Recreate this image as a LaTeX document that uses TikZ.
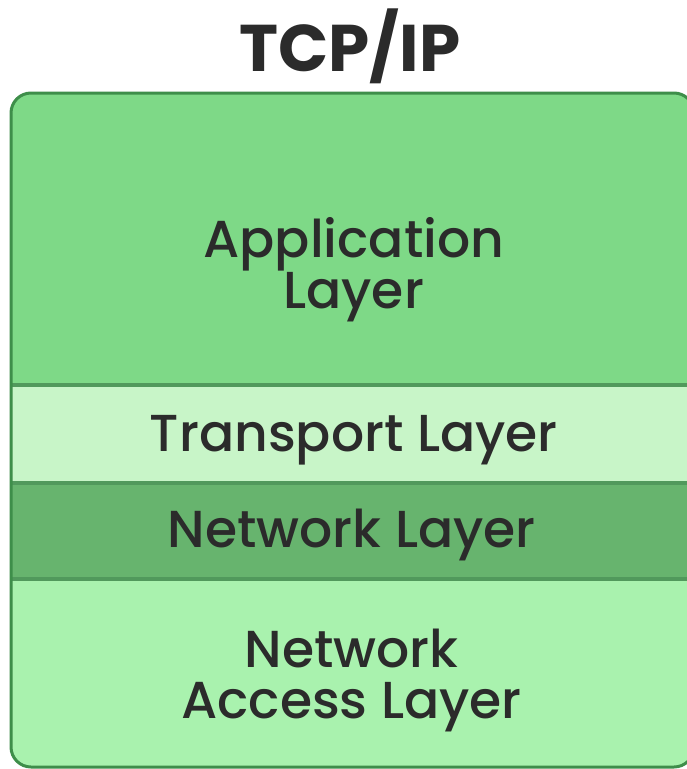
\documentclass[tikz,border=0pt]{standalone}
\usepackage{fontspec}
\setmainfont{Poppins}
\newfontfamily\medfont{Poppins Medium}
\definecolor{appgreen}{HTML}{7ED987}
\definecolor{transgreen}{HTML}{C8F5C8}
\definecolor{netgreen}{HTML}{67B46E}
\definecolor{accgreen}{HTML}{A9F2AE}
\definecolor{edgegreen}{HTML}{3E8E4A}
\definecolor{inkgray}{HTML}{2B2B2B}
\begin{document}
\begin{tikzpicture}[x=1pt,y=-1pt,
  layer/.style={rectangle, anchor=north west, minimum width=683pt, inner sep=0pt},
  laytext/.style={text=inkgray, align=center, inner sep=0pt,
    font=\medfont\fontsize{52}{51}\selectfont},
  sep/.style={edgegreen!90, line width=4pt}]
\useasboundingbox (0,0) rectangle (686,769);
\node[text=inkgray, font=\bfseries\fontsize{66}{66}\selectfont] (title) at (350,46) {TCP/IP};
\begin{scope}
  \clip[rounded corners=20pt] (11,93) rectangle (694,767);
  \node[layer, fill=appgreen, minimum height=292pt] (app) at (11,93) {};
  \node[layer, fill=transgreen, minimum height=97pt] (trans) at (app.south west) {};
  \node[layer, fill=netgreen, minimum height=96pt] (net) at (trans.south west) {};
  \node[layer, fill=accgreen, minimum height=189pt] (acc) at (net.south west) {};
\end{scope}
\node[laytext] (apptext) at ([xshift=1pt,yshift=-31pt]app.center) {Application\\Layer};
\node[laytext] (transtext) at ([xshift=1pt,yshift=-6pt]trans.center) {Transport Layer};
\node[laytext] (nettext) at ([xshift=-1pt,yshift=-4pt]net.center) {Network Layer};
\node[laytext] (acctext) at ([xshift=-1pt,yshift=-7pt]acc.center) {Network\\Access Layer};
\draw[sep] (app.south west) -- (app.south east);
\draw[sep] (trans.south west) -- (trans.south east);
\draw[sep] (net.south west) -- (net.south east);
\draw[edgegreen, line width=3pt, rounded corners=20pt] (11,93) rectangle (694,767);
\end{tikzpicture}
\end{document}
